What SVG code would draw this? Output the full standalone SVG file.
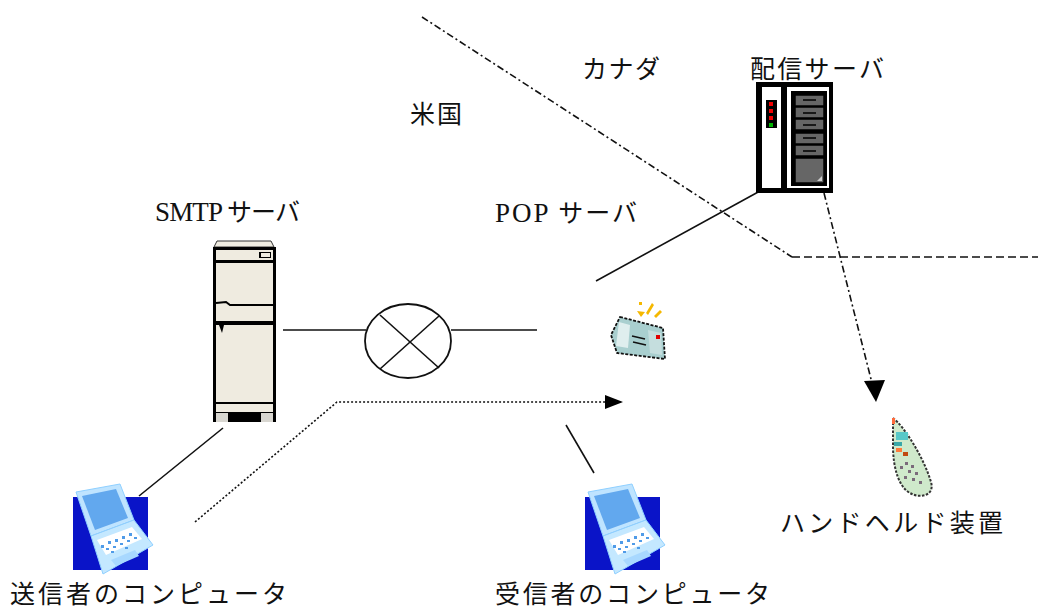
<svg xmlns="http://www.w3.org/2000/svg" width="1038" height="610" viewBox="0 0 1038 610">
  <style>
    .lbl { font-family: "Noto Sans CJK JP", "Liberation Sans", sans-serif; font-size: 25px; fill: #111; }
    .lat { font-family: "Liberation Serif", serif; font-size: 27px; }
    .ln { stroke: #111; stroke-width: 1.6; fill: none; }
    .beige { fill: #efebe0; }
    .drawer { fill: #666; stroke: #000; stroke-width: 1.5; }
  </style>
  <defs>
    <marker id="tri" viewBox="0 0 18 14" refX="17" refY="7" markerWidth="18" markerHeight="14" markerUnits="userSpaceOnUse" orient="auto">
      <path d="M0,0 L18,7 L0,14 Z" fill="#000"/>
    </marker>
    <!-- laptop symbol, drawn with its blue backing square at (0,0) -->
    <g id="laptop">
      <rect x="0" y="0" width="75" height="73" fill="#0a14c8"/>
      <polygon points="3,-5 47,-13 61,23 18,39" fill="#bfe4ff" stroke="#8fd0ff" stroke-width="1"/>
      <polygon points="9,-1 43,-8 55,21 22,33" fill="#62a8ee"/>
      <polygon points="18,39 61,23 80,48 30,77" fill="#c4e8ff" stroke="#8fd0ff" stroke-width="1"/>
      <polygon points="24,43 59,30 69,42 33,58" fill="#ffffff"/>
      <g fill="#4f9be8">
        <rect x="28" y="48" width="3" height="3"/><rect x="35" y="44" width="3" height="3"/>
        <rect x="42" y="42" width="3" height="3"/><rect x="49" y="39" width="3" height="3"/>
        <rect x="56" y="36" width="3" height="3"/><rect x="33" y="51" width="3" height="2"/>
        <rect x="40" y="49" width="3" height="2"/><rect x="47" y="46" width="3" height="2"/>
        <rect x="54" y="43" width="3" height="2"/><rect x="61" y="40" width="3" height="2"/>
        <rect x="38" y="54" width="3" height="2"/><rect x="52" y="50" width="3" height="2"/>
      </g>
      <polygon points="38,63 62,53 66,59 43,69" fill="#a8d8ff"/>
    </g>
  </defs>

  <rect width="1038" height="610" fill="#ffffff"/>

  <!-- region border -->
  <g id="border">
    <polyline class="ln" points="422,17 792,257" stroke-dasharray="7 3 2 3" stroke-width="1.5"/>
    <polyline class="ln" points="792,257 1038,257" stroke-dasharray="8 4" stroke-width="1.5"/>
  </g>

  <g id="connectors">
    <line class="ln" x1="283" y1="330" x2="366" y2="330"/>
    <line class="ln" x1="451" y1="330" x2="537" y2="330"/>
    <line class="ln" x1="596" y1="281" x2="760" y2="191"/>
    <line class="ln" x1="223" y1="428" x2="139" y2="496"/>
    <line class="ln" x1="566" y1="425" x2="594" y2="473"/>
    <polyline class="ln" points="195,522 337,402 622,402" stroke-dasharray="2 2" marker-end="url(#tri)"/>
    <line class="ln" x1="824" y1="193" x2="875" y2="395" stroke-dasharray="7 3 2 3" stroke-width="1.4"/>
    <path d="M864,381 L885,380 L876,402 Z" fill="#000"/>
  </g>

  <!-- internet -->
  <g id="internet">
    <ellipse cx="408" cy="341" rx="43" ry="37" fill="#fff" stroke="#111" stroke-width="1.8"/>
    <line class="ln" x1="380" y1="315" x2="439" y2="368"/>
    <line class="ln" x1="439" y1="316" x2="380" y2="369"/>
  </g>

  <!-- SMTP server -->
  <g id="smtp-server">
    <polygon points="217,241 271,241 274,247 214,247" class="beige" stroke="#333" stroke-width="1"/>
    <rect x="213" y="247" width="63" height="175" fill="#000"/>
    <rect x="216" y="250" width="57" height="10" class="beige"/>
    <rect x="259" y="252" width="12" height="6" fill="#000"/>
    <rect x="261" y="253" width="9" height="4" class="beige"/>
    <rect x="216" y="263" width="57" height="58" class="beige"/>
    <path d="M216,303 L226,302 L230,305 L273,305" stroke="#000" stroke-width="2" fill="none"/>
    <rect x="216" y="325" width="57" height="77" class="beige"/>
    <path d="M219,325 L224,325 L222,333 Z" fill="#000"/>
    <rect x="216" y="404" width="57" height="8" class="beige"/>
    <rect x="216" y="413" width="12" height="9" fill="#d8d6d0"/>
    <rect x="261" y="413" width="12" height="9" fill="#d8d6d0"/>
  </g>

  <!-- delivery server -->
  <g id="delivery-server">
    <rect x="756" y="82" width="77" height="111" fill="#000"/>
    <rect x="762" y="87" width="19" height="101" fill="#fff"/>
    <rect x="766" y="100" width="11" height="28" fill="#000"/>
    <rect x="769" y="102" width="4" height="4" fill="#f00000"/>
    <rect x="769" y="109" width="4" height="4" fill="#f00000"/>
    <rect x="769" y="116" width="4" height="4" fill="#f00000"/>
    <rect x="769" y="123" width="4" height="4" fill="#00b400"/>
    <rect x="787" y="87" width="42" height="101" fill="#fff"/>
    <rect x="791" y="91" width="36" height="95" fill="#000"/>
    <rect class="drawer" x="795" y="95" width="29" height="11"/>
    <rect class="drawer" x="795" y="107" width="29" height="11"/>
    <rect class="drawer" x="795" y="119" width="29" height="11"/>
    <rect class="drawer" x="795" y="133" width="29" height="11"/>
    <rect class="drawer" x="795" y="145" width="29" height="11"/>
    <rect class="drawer" x="795" y="158" width="29" height="25"/>
    <g stroke="#000" stroke-width="1.5">
      <line x1="803" y1="100" x2="816" y2="100"/>
      <line x1="803" y1="113" x2="816" y2="113"/>
      <line x1="803" y1="125" x2="816" y2="125"/>
      <line x1="803" y1="138" x2="816" y2="138"/>
      <line x1="803" y1="151" x2="816" y2="151"/>
    </g>
    <path d="M817,181 L822,176 L822,181 Z" fill="#ccc"/>
  </g>

  <!-- pager -->
  <g id="pager">
    <polygon points="620,317 663,328 665,359 617,353 611,335" fill="#a9cfcf" stroke="#111" stroke-width="1.8" stroke-dasharray="3 1.5"/>
    <polygon points="619,322 630,325 628,348 616,346" fill="#dfeeee"/>
    <polygon points="648,330 661,333 662,355 650,353" fill="#c5dede"/>
    <g stroke="#111" stroke-width="1.6">
      <line x1="632" y1="336" x2="645" y2="339"/>
      <line x1="633" y1="342" x2="646" y2="345"/>
    </g>
    <rect x="656" y="335" width="4" height="4" fill="#e00000"/>
    <g fill="#f5b800">
      <polygon points="637,311 645,312 641,317"/>
      <polygon points="646,313 652,303 654,305 648,315"/>
      <polygon points="654,316 660,310 662,312 656,318"/>
      <rect x="639" y="302" width="3" height="3"/>
    </g>
  </g>

  <!-- handheld -->
  <g id="handheld">
    <path d="M893,418 C904,426 924,458 931,482 C935,496 920,498 912,494 C899,489 893,468 893,446 Z" fill="#cfe9cb" stroke="#333" stroke-width="2" stroke-dasharray="2.5 1.5"/>
    <rect x="892" y="418" width="3" height="6" fill="#ff6a3a"/>
    <rect x="896" y="432" width="12" height="8" fill="#58c8c8"/>
    <rect x="894" y="442" width="8" height="4" fill="#3aa8a8"/>
    <rect x="896" y="448" width="6" height="4" fill="#ff7a3a"/>
    <rect x="903" y="452" width="5" height="4" fill="#c04a10"/>
    <g fill="#7a6a7a">
      <rect x="905" y="462" width="3" height="3"/><rect x="911" y="465" width="3" height="3"/>
      <rect x="908" y="470" width="3" height="3"/><rect x="915" y="472" width="3" height="3"/>
      <rect x="912" y="478" width="3" height="3"/><rect x="919" y="481" width="3" height="3"/>
      <rect x="900" y="466" width="3" height="3"/><rect x="904" y="476" width="3" height="3"/>
    </g>
  </g>

  <g id="sender-pc">
    <use href="#laptop" x="73" y="497"/>
  </g>
  <g id="receiver-pc">
    <use href="#laptop" x="585" y="497"/>
  </g>

  <g id="labels">
    <text class="lbl" x="582" y="78" textLength="78" lengthAdjust="spacing">カナダ</text>
    <text class="lbl" x="750" y="78" textLength="134" lengthAdjust="spacing">配信サーバ</text>
    <text class="lbl" x="410" y="123" textLength="52" lengthAdjust="spacing">米国</text>
    <text class="lbl" x="155" y="221" textLength="145" lengthAdjust="spacing"><tspan class="lat">SMTP </tspan>サーバ</text>
    <text class="lbl" x="495" y="222" textLength="142" lengthAdjust="spacing"><tspan class="lat">POP </tspan>サーバ</text>
    <text class="lbl" x="780" y="532" textLength="223" lengthAdjust="spacing">ハンドヘルド装置</text>
    <text class="lbl" x="10" y="603" textLength="277" lengthAdjust="spacing">送信者のコンピュータ</text>
    <text class="lbl" x="495" y="603" textLength="275" lengthAdjust="spacing">受信者のコンピュータ</text>
  </g>
</svg>
